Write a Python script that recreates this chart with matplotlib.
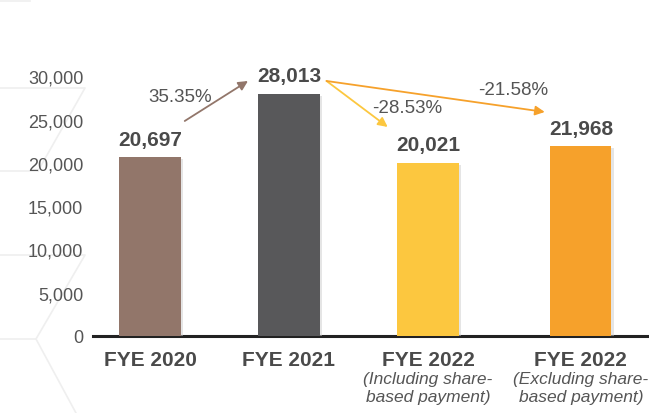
import matplotlib
matplotlib.use("Agg")
import matplotlib.pyplot as plt
from matplotlib import patheffects as pe
from matplotlib.lines import Line2D

plt.rcParams["font.family"] = ["Liberation Sans", "DejaVu Sans"]

# ---- data ----
years = ["FYE 2020", "FYE 2021", "FYE 2022", "FYE 2022"]
notes = ["", "", "(Including share-\nbased payment)", "(Excluding share-\nbased payment)"]
values = [20697, 28013, 20021, 21968]
colors = ["#92766a", "#58585a", "#fcc73f", "#f6a12b"]
x_pos = [0, 1, 2, 3.1]

changes = ["35.35%", "-28.53%", "-21.58%"]
change_colors = ["#92766a", "#fcc73f", "#f6a12b"]

yticks = [0, 5000, 10000, 15000, 20000, 25000, 30000]

W, H = 649, 414
fig = plt.figure(figsize=(W / 100, H / 100), dpi=100)

# faint decorative hexagon lines in the background (pixel coords -> figure fraction)
deco = [
    [(0, 89), (85, 89), (38, 172)],
    [(0, 172), (38, 172)],
    [(0, 256), (85, 256), (36, 340)],
    [(0, 340), (36, 340), (76, 414)],
    [(0, 2), (30, 2)],
]
for seg in deco:
    xs = [p[0] / W for p in seg]
    ys = [1 - p[1] / H for p in seg]
    fig.add_artist(Line2D(xs, ys, color="#efefef", lw=1.2, transform=fig.transFigure, zorder=0))

ax = fig.add_axes([93 / W, (H - 337) / H, 1 - 93 / W, (337 - 60) / H])
ax.set_facecolor("none")

shadow = [pe.SimplePatchShadow(offset=(1.5, -1.5), shadow_rgbFace="#cccccc", alpha=0.5), pe.Normal()]
bars = ax.bar(x_pos, values, width=0.44, color=colors, zorder=3)
for b in bars:
    b.set_path_effects(shadow)

ax.set_ylim(0, 32000)
ax.set_xlim(-0.41, 3.59)
ax.set_yticks(yticks, [f"{v:,}" for v in yticks])
ax.tick_params(axis="y", length=0, pad=7, labelsize=13, labelcolor="#555555")
ax.set_xticks([])
for s in ["top", "right", "left"]:
    ax.spines[s].set_visible(False)
ax.spines["bottom"].set_color("#222222")
ax.spines["bottom"].set_linewidth(2.2)

# value labels
for xp, v in zip(x_pos, values):
    ax.annotate(f"{v:,}", (xp, v), xytext=(0, 6), textcoords="offset points",
                ha="center", va="bottom", fontsize=15, fontweight="bold", color="#4a4a4a")

# category labels
for xp, yr, nt in zip(x_pos, years, notes):
    ax.annotate(yr, (xp, 0), xytext=(0, -10), textcoords="offset points",
                ha="center", va="top", fontsize=15, fontweight="bold", color="#4a4a4a")
    if nt:
        ax.annotate(nt, (xp, 0), xytext=(0, -25), textcoords="offset points",
                    ha="center", va="top", fontsize=12.5, style="italic", color="#555555",
                    linespacing=1.3)

# growth arrows (start/end in data units)
arrow_tail = [(0.25, 24840), (1.27, 29460), (1.27, 29460)]
arrow_head = [(0.705, 29460), (1.71, 24150), (2.84, 25880)]
label_pos = [(0.22, 27700), (1.85, 26340), (2.61, 28420)]
for i, lab in enumerate(changes):
    ax.annotate("", xy=arrow_head[i], xytext=arrow_tail[i],
                arrowprops=dict(arrowstyle="-|>", color=change_colors[i], lw=1.3,
                                mutation_scale=14, shrinkA=0, shrinkB=0))
    ax.text(*label_pos[i], lab, ha="center", va="center", fontsize=13.5, color="#555555")

fig.savefig("out.png", dpi=100)
